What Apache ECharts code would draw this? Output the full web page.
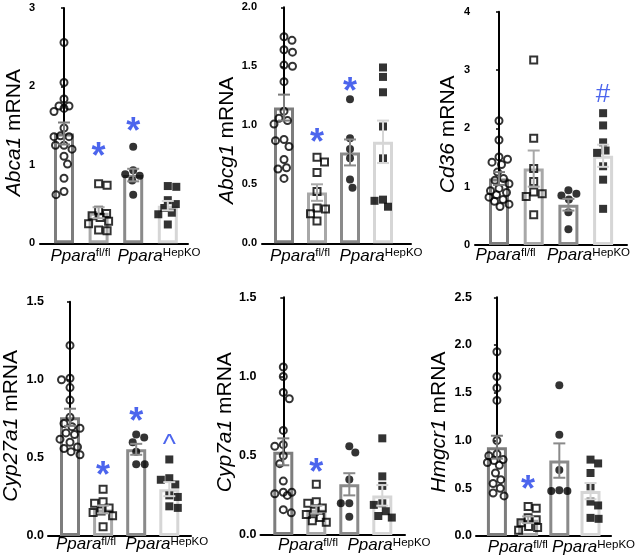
<!DOCTYPE html>
<html><head><meta charset="utf-8">
<script src="https://cdn.jsdelivr.net/npm/echarts@6/dist/echarts.min.js"></script>
<style>html,body{margin:0;padding:0;background:#fff}#c{width:638px;height:560px}</style>
</head><body><div id="c"></div>
<script>
// ---------------- DATA ----------------
const genes = ['Abca1', 'Abcg1', 'Cd36', 'Cyp27a1', 'Cyp7a1', 'Hmgcr1'];
const genotypes = ['fl/fl', 'HepKO'];
const yMax = [3, 2, 4, 1.5, 1.5, 2.5];
const yStep = [1, 0.5, 1, 0.5, 0.5, 0.5];
const yDecimals = [0, 1, 0, 1, 1, 1];

// four groups per gene: open circles, open squares, filled circles, filled squares
const abca1Points = [
  [2.56, 2.05, 1.84, 1.75, 1.72, 1.75, 1.68, 1.47, 1.36, 1.37, 1.36, 1.25, 1.25, 1.20, 1.11, 1.01, 0.83, 0.62, 0.66],
  [0.74, 0.76, 0.42, 0.38, 0.35, 0.33, 0.28, 0.25, 0.17, 0.16],
  [1.23, 0.93, 0.88, 0.86, 0.80, 0.62],
  [0.72, 0.73, 0.55, 0.50, 0.45, 0.39, 0.37, 0.24]
];
const abca1Mean = [1.40, 0.39, 0.87, 0.48];
const abca1Sem = [0.14, 0.07, 0.08, 0.06];

const abcg1Points = [
  [1.75, 1.72, 1.64, 1.62, 1.51, 1.50, 1.37, 1.12, 1.06, 1.04, 1.01, 0.88, 0.87, 0.82, 0.71, 0.64, 0.63, 0.55],
  [0.73, 0.69, 0.60, 0.44, 0.30, 0.29, 0.25, 0.19],
  [1.22, 0.89, 0.80, 0.72, 0.54, 0.47],
  [1.49, 1.41, 1.28, 0.99, 0.72, 0.37, 0.36, 0.31]
];
const abcg1Mean = [1.15, 0.43, 0.77, 0.86];
const abcg1Sem = [0.11, 0.07, 0.11, 0.18];

const cd36Points = [
  [2.13, 1.80, 1.51, 1.47, 1.42, 1.38, 1.25, 1.14, 1.11, 1.05, 0.97, 0.93, 0.90, 0.86, 0.82, 0.78, 0.75, 0.70, 0.66],
  [3.17, 1.83, 1.31, 1.09, 0.91, 0.88, 0.83, 0.52],
  [0.94, 0.88, 0.85, 0.78, 0.56, 0.27],
  [2.26, 2.05, 1.76, 1.62, 1.58, 1.35, 1.12, 0.62]
];
const cd36Mean = [1.14, 1.31, 0.69, 1.53];
const cd36Sem = [0.11, 0.31, 0.10, 0.19];

const cyp27a1Points = [
  [1.22, 1.00, 1.01, 0.95, 0.87, 0.76, 0.72, 0.70, 0.69, 0.66, 0.65, 0.62, 0.60, 0.57, 0.56, 0.54, 0.52],
  [0.30, 0.22, 0.21, 0.18, 0.16, 0.15, 0.13, 0.06],
  [0.65, 0.63, 0.60, 0.54, 0.46, 0.46],
  [0.49, 0.37, 0.36, 0.33, 0.26, 0.25, 0.19, 0.18]
];
const cyp27a1Mean = [0.76, 0.17, 0.555, 0.30];
const cyp27a1Sem = [0.055, 0.025, 0.035, 0.045];

const cyp7a1Points = [
  [1.06, 1.00, 0.90, 0.86, 0.66, 0.57, 0.56, 0.50, 0.45, 0.34, 0.27, 0.27, 0.26, 0.25, 0.16, 0.14],
  [0.32, 0.21, 0.20, 0.17, 0.15, 0.13, 0.11, 0.09, 0.08],
  [0.56, 0.52, 0.35, 0.20, 0.20, 0.115],
  [0.61, 0.37, 0.31, 0.20, 0.19, 0.15, 0.12, 0.11]
];
const cyp7a1Mean = [0.525, 0.16, 0.32, 0.25];
const cyp7a1Sem = [0.085, 0.025, 0.07, 0.065];

const hmgcr1Points = [
  [1.93, 1.67, 1.55, 1.42, 1.00, 0.86, 0.84, 0.80, 0.79, 0.77, 0.74, 0.66, 0.59, 0.55, 0.50, 0.45, 0.42],
  [0.31, 0.29, 0.19, 0.17, 0.14, 0.10, 0.09, 0.06],
  [1.58, 1.06, 0.69, 0.48, 0.47, 0.47],
  [0.80, 0.76, 0.66, 0.52, 0.36, 0.32, 0.19, 0.18]
];
const hmgcr1Mean = [0.93, 0.17, 0.79, 0.47];
const hmgcr1Sem = [0.12, 0.035, 0.18, 0.085];

// significance marks: [symbol, group index, y level]
const abca1Marks = [['*', 1, 1.17], ['*', 2, 1.49]];
const abcg1Marks = [['*', 1, 0.90], ['*', 2, 1.33]];
const cd36Marks = [['#', 3, 2.57]];
const cyp27a1Marks = [['*', 1, 0.42], ['*', 2, 0.77], ['^', 3, 0.61]];
const cyp7a1Marks = [['*', 1, 0.43]];
const hmgcr1Marks = [['*', 1, 0.545]];

const allPoints = [abca1Points, abcg1Points, cd36Points, cyp27a1Points, cyp7a1Points, hmgcr1Points];
const allMeans = [abca1Mean, abcg1Mean, cd36Mean, cyp27a1Mean, cyp7a1Mean, hmgcr1Mean];
const allSems = [abca1Sem, abcg1Sem, cd36Sem, cyp27a1Sem, cyp7a1Sem, hmgcr1Sem];
const allMarks = [abca1Marks, abcg1Marks, cd36Marks, cyp27a1Marks, cyp7a1Marks, hmgcr1Marks];

// ---------------- LAYOUT (pixels) ----------------
const layout = [
  {axisX: 40,  top: 8,     bottom: 243.3, c1: 64,    sp: 34.6, end: 188, lab: [80.5, 159],   lm: 4, gap: 12, shift: 14, tf: 11, tm: 5},
  {axisX: 262, top: 7.3,   bottom: 243.3, c1: 284,   sp: 33,   end: 411, lab: [300, 381],    lm: 4, gap: 23, shift: 30, tf: 11, tm: 5},
  {axisX: 475, top: 11.7,  bottom: 245,   c1: 499,   sp: 34.7, end: 627, lab: [505.6, 588.5],lm: 2, gap: 16, shift: 12, tf: 11, tm: 5},
  {axisX: 48,  top: 301.7, bottom: 536,   c1: 70,    sp: 33.1, end: 191, lab: [86, 166.7],   lm: 0, gap: 26, shift: 14, tf: 12.5, tm: 4},
  {axisX: 260.5, top: 297.3, bottom: 535, c1: 283.3, sp: 33,   end: 405, lab: [308, 389],    lm: 2, gap: 25, shift: 12, tf: 12.5, tm: 4},
  {axisX: 476, top: 297.3, bottom: 536,   c1: 498,   sp: 32.8, end: 618, lab: [520, 599.5],  lm: 3, gap: 26, shift: 11, tf: 12.5, tm: 4}
];
const barColors = ['#7d7d7d', '#a8a8a8', '#8a8a8a', '#d6d6d6'];
const FONT = "'Liberation Sans', Arial, Helvetica, sans-serif";
const BLUE = '#1f3fe8';

// greedy beeswarm layout (pixel offsets), limited width
function swarm(values, pxPerUnit, diam, maxOff) {
  const order = values.map((v, i) => i).sort((a, b) => values[b] - values[a]);
  const placed = [];
  const offs = new Array(values.length).fill(0);
  order.forEach((idx, n) => {
    const y = values[idx] * pxPerUnit;
    let chosen = null, bestC = 0, bestD = -1;
    outer:
    for (let s = 0; s <= maxOff; s += 0.5) {
      const cands = s === 0 ? [0] : (n % 2 ? [s, -s] : [-s, s]);
      for (const c of cands) {
        let minD = Infinity;
        for (const p of placed) {
          const dx = p[0] - c, dy = p[1] - y;
          minD = Math.min(minD, Math.sqrt(dx * dx + dy * dy));
        }
        if (minD >= diam) { chosen = c; break outer; }
        if (minD > bestD) { bestD = minD; bestC = c; }
      }
    }
    if (chosen === null) chosen = bestC;
    placed.push([chosen, y]);
    offs[idx] = chosen;
  });
  return offs;
}

const grids = [], xAxes = [], yAxes = [], series = [];
layout.forEach((L, p) => {
  const gh = L.bottom - L.top;
  grids.push({left: L.axisX, top: L.top, width: L.end - L.axisX, height: gh, containLabel: false});
  const xmin = (L.axisX - L.c1) / L.sp, xmax = (L.end - L.c1) / L.sp;
  const labVals = L.lab.map(v => (v - L.c1) / L.sp);
  xAxes.push({
    gridIndex: p, type: 'value', min: xmin, max: xmax,
    axisLine: {show: true, onZero: false, lineStyle: {color: '#000', width: 2}},
    axisTick: {show: false}, splitLine: {show: false}, axisLabel: {show: false}
  });
  genotypes.forEach((gt, k) => {
    xAxes.push({
      gridIndex: p, type: 'value', min: xmin, max: xmax, position: 'bottom',
      axisLine: {show: false}, axisTick: {show: false}, splitLine: {show: false},
      axisLabel: {
        show: true, customValues: [labVals[k]], margin: L.lm, hideOverlap: false,
        formatter: () => '{i|Ppara}{s|' + gt + '}',
        rich: {
          i: {fontFamily: FONT, fontStyle: 'italic', fontSize: 17, color: '#000'},
          s: {fontFamily: FONT, fontSize: 11.5, color: '#000', verticalAlign: 'top'}
        }
      }
    });
  });
  const xi = p * 3;
  yAxes.push({
    gridIndex: p, type: 'value', min: 0, max: yMax[p], interval: yStep[p],
    axisLine: {show: true, lineStyle: {color: '#000', width: 2}},
    axisTick: {show: true, length: 3, lineStyle: {color: '#000', width: 1.5}},
    splitLine: {show: false},
    axisLabel: {fontFamily: FONT, fontWeight: 'bold', fontSize: L.tf, color: '#000', margin: L.tm,
      formatter: v => v.toFixed(yDecimals[p])},
    name: '{i|' + genes[p] + '}{n| mRNA}', nameLocation: 'middle', nameGap: L.gap,
    nameTextStyle: {
      padding: [0, L.shift, 0, 0],
      rich: {
        i: {fontFamily: FONT, fontStyle: 'italic', fontSize: 21, color: '#000'},
        n: {fontFamily: FONT, fontSize: 21, color: '#000'}
      }
    }
  });
  const means = allMeans[p], sems = allSems[p], pts = allPoints[p];
  series.push({
    type: 'bar', xAxisIndex: xi, yAxisIndex: p, barWidth: 20, z: 1,
    data: means.map((m, g) => ({value: [g, m], itemStyle: {color: '#fff', borderColor: barColors[g], borderWidth: 3}})),
    silent: true, animation: false
  });
  const pxPerUnit = gh / yMax[p];
  const styles = [
    {symbol: 'circle', symbolSize: 7, itemStyle: {color: 'rgba(0,0,0,0)', borderColor: '#000', borderWidth: 2}},
    {symbol: 'rect', symbolSize: 7, itemStyle: {color: 'rgba(0,0,0,0)', borderColor: '#000', borderWidth: 2}},
    {symbol: 'circle', symbolSize: 8, itemStyle: {color: '#000'}},
    {symbol: 'rect', symbolSize: 8, itemStyle: {color: '#000'}}
  ];
  pts.forEach((vals, g) => {
    const offs = swarm(vals, pxPerUnit, 8.5, 10);
    series.push(Object.assign({
      type: 'scatter', xAxisIndex: xi, yAxisIndex: p, z: 3, animation: false, silent: true,
      data: vals.map((v, i) => [g + offs[i] / L.sp, v])
    }, styles[g]));
  });
  series.push({
    type: 'custom', xAxisIndex: xi, yAxisIndex: p, z: 4, animation: false, silent: true,
    data: means.map((m, g) => [g, m, sems[g]]),
    encode: {x: 0, y: 1},
    renderItem: (params, api) => {
      const g = api.value(0), m = api.value(1), s = api.value(2);
      const t = api.coord([g, m + s]), b = api.coord([g, m - s]);
      const hw = 6;
      const st = {stroke: barColors[g], lineWidth: 2};
      return {type: 'group', children: [
        {type: 'line', shape: {x1: t[0], y1: t[1], x2: b[0], y2: b[1]}, style: st},
        {type: 'line', shape: {x1: t[0] - hw, y1: t[1], x2: t[0] + hw, y2: t[1]}, style: st},
        {type: 'line', shape: {x1: b[0] - hw, y1: b[1], x2: b[0] + hw, y2: b[1]}, style: st}
      ]};
    }
  });
  series.push({
    type: 'scatter', xAxisIndex: xi, yAxisIndex: p, z: 5, animation: false, silent: true,
    symbolSize: 1, itemStyle: {color: 'rgba(0,0,0,0)'},
    data: allMarks[p].map(mk => {
      const fs = mk[0] === '*' ? 36 : (mk[0] === '#' ? 26 : 28);
      return {
        value: [mk[1], mk[2]],
        label: {show: true, position: 'inside', formatter: mk[0], color: BLUE, fontFamily: FONT,
          fontWeight: mk[0] === '*' ? 'bold' : 'normal',
          fontSize: fs,
          offset: [0, mk[0] === '*' ? Math.round(fs * 0.2) : (mk[0] === '#' ? 0 : 5)]}
      };
    })
  });
});

const chart = echarts.init(document.getElementById('c'), null, {renderer: 'canvas', width: 638, height: 560});
chart.setOption({
  backgroundColor: '#fff', animation: false,
  grid: grids, xAxis: xAxes, yAxis: yAxes, series: series
});
</script></body></html>
